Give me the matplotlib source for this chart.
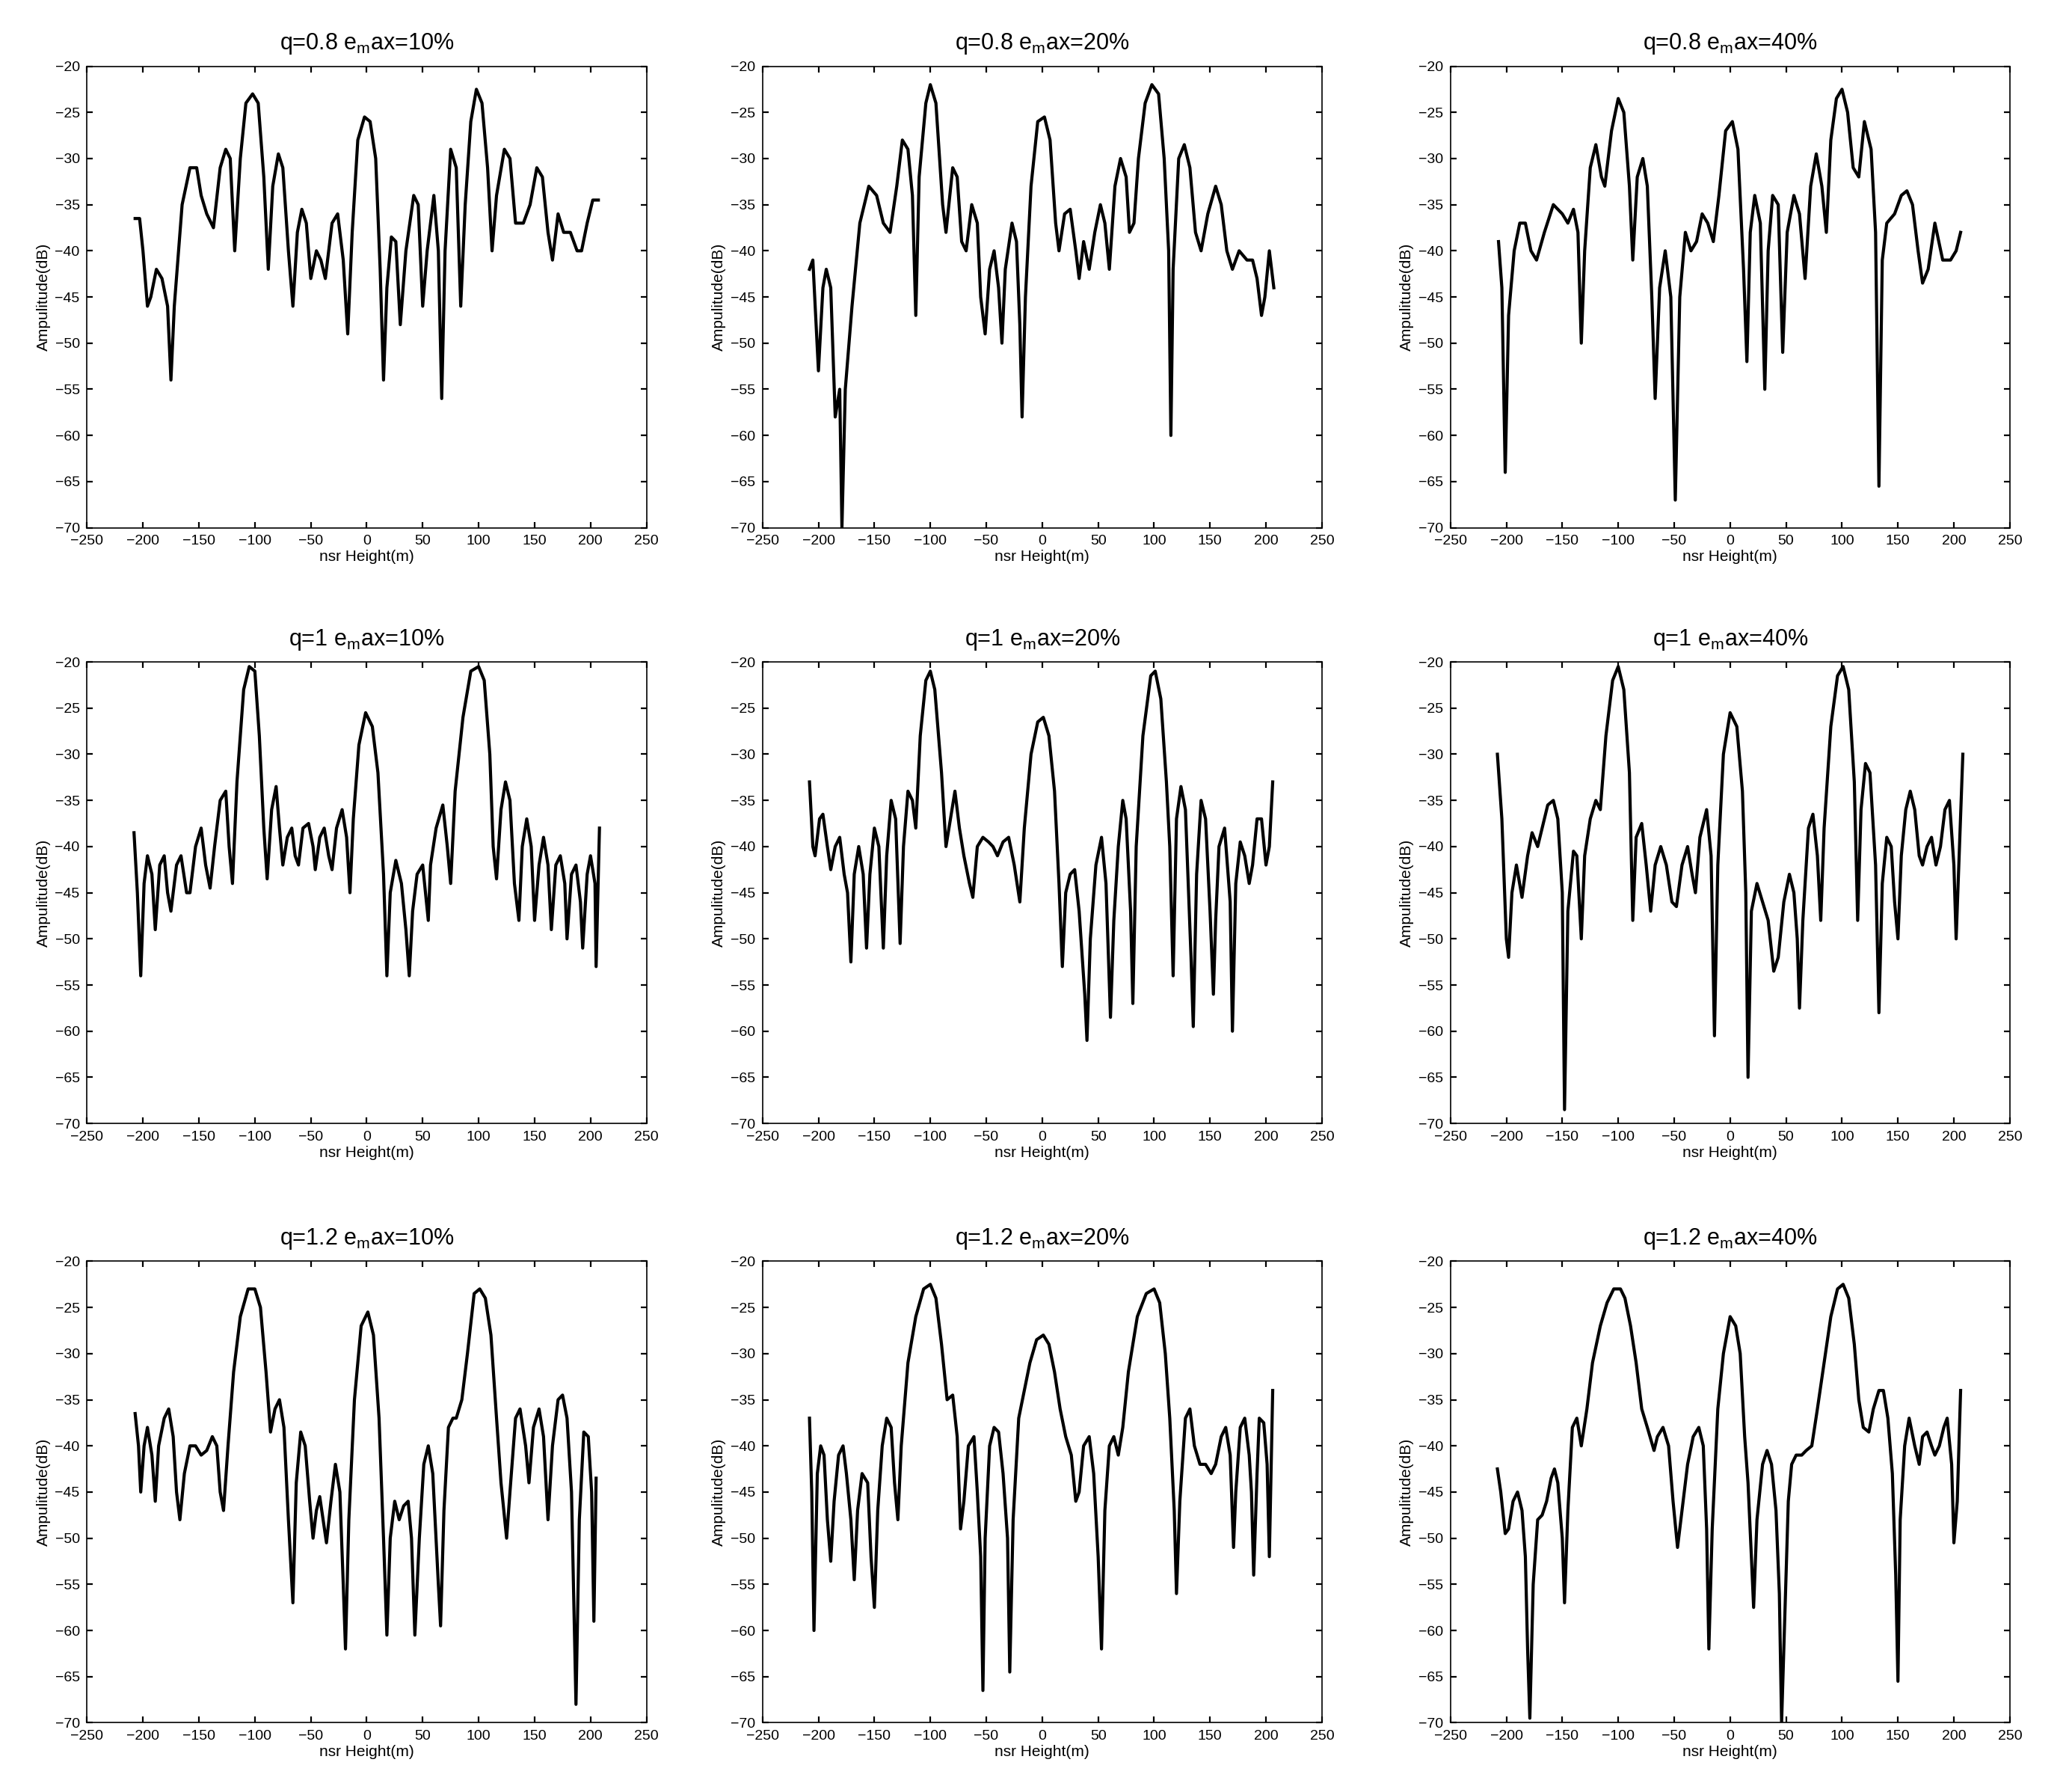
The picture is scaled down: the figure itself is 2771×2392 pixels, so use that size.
import numpy as np
import matplotlib
matplotlib.use("Agg")
import matplotlib.pyplot as plt

plt.rcParams['font.family'] = ['Liberation Sans', 'DejaVu Sans']
plt.rcParams['mathtext.default'] = 'regular'

# (x, dB) samples, one list per panel
p_08_10 = [(-207,-36.5),(-203,-36.5),(-200,-40),(-196,-46),(-193,-45),(-188,-42),(-183,-43),(-178,-46),(-175,-54),(-172,-46),(-165,-35),(-158,-31),(-152,-31),(-148,-34),(-143,-36),(-137,-37.5),(-131,-31),(-126,-29),(-122,-30),(-118,-40),(-113,-30),(-108,-24),(-102,-23),(-97,-24),(-92,-32),(-88,-42),(-84,-33),(-79,-29.5),(-75,-31),(-70,-40),(-66,-46),(-62,-38),(-58,-35.5),(-54,-37),(-50,-43),(-45,-40),(-41,-41),(-37,-43),(-31,-37),(-26,-36),(-21,-41),(-17,-49),(-13,-38),(-8,-28),(-2,-25.5),(3,-26),(8,-30),(12,-42),(15,-54),(18,-44),(22,-38.5),(26,-39),(30,-48),(35,-40),(42,-34),(46,-35),(50,-46),(54,-40),(60,-34),(64,-40),(67,-56),(70,-40),(75,-29),(80,-31),(84,-46),(88,-35),(93,-26),(98,-22.5),(103,-24),(108,-31),(112,-40),(116,-34),(123,-29),(128,-30),(133,-37),(140,-37),(146,-35),(152,-31),(157,-32),(162,-38),(166,-41),(171,-36),(176,-38),(182,-38),(188,-40),(192,-40),(197,-37),(202,-34.5),(207,-34.5)]
p_08_20 = [(-208,-42),(-205,-41),(-200,-53),(-196,-44),(-193,-42),(-189,-44),(-185,-58),(-181,-55),(-179,-70),(-176,-55),(-170,-46),(-163,-37),(-155,-33),(-148,-34),(-142,-37),(-136,-38),(-130,-33),(-125,-28),(-120,-29),(-116,-34),(-113,-47),(-110,-32),(-104,-24),(-100,-22),(-95,-24),(-89,-35),(-86,-38),(-80,-31),(-76,-32),(-72,-39),(-68,-40),(-63,-35),(-58,-37),(-55,-45),(-51,-49),(-47,-42),(-43,-40),(-39,-44),(-36,-50),(-33,-42),(-27,-37),(-23,-39),(-20,-48),(-18,-58),(-15,-45),(-10,-33),(-4,-26),(2,-25.5),(7,-28),(12,-37),(15,-40),(20,-36),(25,-35.5),(30,-40),(33,-43),(37,-39),(42,-42),(47,-38),(52,-35),(56,-37),(60,-42),(65,-33),(70,-30),(75,-32),(78,-38),(82,-37),(86,-30),(92,-24),(98,-22),(104,-23),(109,-30),(113,-40),(115,-60),(117,-42),(122,-30),(127,-28.5),(132,-31),(137,-38),(142,-40),(148,-36),(155,-33),(160,-35),(165,-40),(170,-42),(176,-40),(183,-41),(188,-41),(192,-43),(196,-47),(199,-45),(203,-40),(207,-44)]
p_08_40 = [(-207,-39),(-204,-44),(-201,-64),(-198,-47),(-193,-40),(-188,-37),(-183,-37),(-178,-40),(-173,-41),(-166,-38),(-158,-35),(-150,-36),(-145,-37),(-140,-35.5),(-136,-38),(-133,-50),(-130,-40),(-125,-31),(-120,-28.5),(-115,-32),(-112,-33),(-106,-27),(-100,-23.5),(-95,-25),(-90,-33),(-87,-41),(-83,-32),(-78,-30),(-74,-33),(-70,-45),(-67,-56),(-63,-44),(-58,-40),(-53,-45),(-49,-67),(-45,-45),(-40,-38),(-35,-40),(-30,-39),(-25,-36),(-20,-37),(-15,-39),(-10,-34),(-4,-27),(2,-26),(7,-29),(12,-42),(15,-52),(18,-38),(22,-34),(27,-37),(31,-55),(34,-40),(38,-34),(43,-35),(47,-51),(51,-38),(57,-34),(62,-36),(67,-43),(72,-33),(77,-29.5),(82,-33),(86,-38),(90,-28),(95,-23.5),(100,-22.5),(105,-25),(110,-31),(115,-32),(120,-26),(126,-29),(130,-38),(133,-65.5),(136,-41),(140,-37),(147,-36),(153,-34),(158,-33.5),(163,-35),(168,-40),(172,-43.5),(177,-42),(183,-37),(190,-41),(197,-41),(202,-40),(206,-38)]
p_10_10 = [(-208,-38.5),(-205,-45),(-202,-54),(-199,-44),(-196,-41),(-192,-43),(-189,-49),(-185,-42),(-181,-41),(-178,-45),(-175,-47),(-170,-42),(-166,-41),(-161,-45),(-158,-45),(-153,-40),(-148,-38),(-144,-42),(-140,-44.5),(-136,-40),(-131,-35),(-126,-34),(-123,-40),(-120,-44),(-116,-33),(-110,-23),(-105,-20.5),(-100,-21),(-96,-28),(-92,-38),(-89,-43.5),(-85,-36),(-81,-33.5),(-78,-38),(-75,-42),(-71,-39),(-67,-38),(-64,-41),(-61,-42),(-57,-38),(-52,-37.5),(-48,-40),(-46,-42.5),(-42,-39),(-38,-38),(-34,-41),(-31,-42.5),(-27,-38),(-22,-36),(-18,-39),(-15,-45),(-12,-37),(-7,-29),(-1,-25.5),(5,-27),(10,-32),(15,-43),(18,-54),(21,-45),(26,-41.5),(31,-44),(35,-49),(38,-54),(41,-47),(45,-43),(50,-42),(55,-48),(57,-42),(62,-38),(68,-35.5),(72,-40),(75,-44),(79,-34),(86,-26),(93,-21),(100,-20.5),(105,-22),(110,-30),(113,-40),(116,-43.5),(120,-36),(124,-33),(128,-35),(132,-44),(136,-48),(139,-40),(143,-37),(147,-40),(150,-48),(154,-42),(158,-39),(162,-42),(165,-49),(169,-42),(173,-41),(177,-44),(179,-50),(183,-43),(187,-42),(191,-46),(193,-51),(197,-43),(200,-41),(204,-44),(205,-53),(208,-38)]
p_10_20 = [(-208,-33),(-205,-40),(-203,-41),(-199,-37),(-196,-36.5),(-192,-40),(-189,-42.5),(-185,-40),(-181,-39),(-177,-43),(-174,-45),(-171,-52.5),(-168,-43),(-164,-40),(-160,-43),(-157,-51),(-154,-43),(-150,-38),(-146,-40),(-142,-51),(-139,-41),(-135,-35),(-131,-37),(-127,-50.5),(-124,-40),(-120,-34),(-116,-35),(-113,-38),(-109,-28),(-104,-22),(-100,-21),(-96,-23),(-90,-32),(-86,-40),(-82,-37),(-78,-34),(-74,-38),(-70,-41),(-65,-44),(-62,-45.5),(-58,-40),(-53,-39),(-48,-39.5),(-44,-40),(-40,-41),(-35,-39.5),(-30,-39),(-25,-42),(-20,-46),(-16,-38),(-10,-30),(-4,-26.5),(1,-26),(6,-28),(11,-34),(15,-44),(18,-53),(21,-45),(25,-43),(29,-42.5),(33,-47),(38,-56),(40,-61),(43,-50),(48,-42),(53,-39),(57,-44),(61,-58.5),(64,-48),(68,-40),(72,-35),(75,-37),(79,-47),(81,-57),(84,-40),(90,-28),(97,-21.5),(101,-21),(106,-24),(111,-33),(114,-40),(117,-54),(120,-37),(124,-33.5),(128,-36),(133,-52),(135,-59.5),(138,-43),(142,-35),(146,-37),(150,-47),(153,-56),(155,-48),(158,-40),(163,-38),(168,-46),(170,-60),(173,-44),(177,-39.5),(181,-41),(185,-44),(188,-42),(192,-37),(196,-37),(200,-42),(203,-40),(206,-33)]
p_10_40 = [(-208,-30),(-204,-37),(-200,-50),(-198,-52),(-195,-45),(-191,-42),(-186,-45.5),(-181,-41),(-177,-38.5),(-172,-40),(-168,-38),(-163,-35.5),(-158,-35),(-154,-37),(-150,-45),(-148,-68.5),(-145,-47),(-140,-40.5),(-137,-41),(-133,-50),(-130,-41),(-125,-37),(-120,-35),(-116,-36),(-111,-28),(-105,-22),(-100,-20.5),(-95,-23),(-90,-32),(-87,-48),(-84,-39),(-79,-37.5),(-75,-42),(-71,-47),(-67,-42),(-62,-40),(-57,-42),(-52,-46),(-48,-46.5),(-43,-42),(-38,-40),(-34,-43),(-31,-45),(-27,-39),(-21,-36),(-17,-41),(-14,-60.5),(-11,-42),(-6,-30),(0,-25.5),(6,-27),(11,-34),(14,-45),(16,-65),(19,-47),(24,-44),(29,-46),(34,-48),(39,-53.5),(43,-52),(48,-46),(53,-43),(57,-45),(60,-50),(62,-57.5),(65,-48),(70,-38),(74,-36.5),(78,-41),(81,-48),(84,-38),(90,-27),(96,-21.5),(101,-20.5),(106,-23),(111,-33),(114,-48),(117,-36),(121,-31),(125,-32),(130,-42),(133,-58),(136,-44),(140,-39),(144,-40),(147,-46),(150,-50),(153,-41),(157,-36),(161,-34),(165,-36),(169,-41),(172,-42),(176,-40),(180,-39),(184,-42),(188,-40),(192,-36),(196,-35),(200,-42),(202,-50),(205,-40),(208,-30)]
p_12_10 = [(-207,-36.5),(-204,-40),(-202,-45),(-199,-40),(-196,-38),(-192,-41),(-189,-46),(-186,-40),(-181,-37),(-177,-36),(-173,-39),(-170,-45),(-167,-48),(-163,-43),(-158,-40),(-153,-40),(-148,-41),(-143,-40.5),(-138,-39),(-134,-40),(-131,-45),(-128,-47),(-124,-40),(-119,-32),(-113,-26),(-106,-23),(-100,-23),(-95,-25),(-90,-32),(-86,-38.5),(-82,-36),(-78,-35),(-74,-38),(-70,-48),(-66,-57),(-63,-44),(-59,-38.5),(-55,-40),(-51,-46),(-48,-50),(-45,-47),(-42,-45.5),(-39,-48),(-36,-50.5),(-32,-46),(-28,-42),(-24,-45),(-21,-55),(-19,-62),(-16,-48),(-11,-35),(-5,-27),(1,-25.5),(6,-28),(11,-37),(15,-50),(18,-60.5),(21,-50),(25,-46),(29,-48),(33,-46.5),(37,-46),(40,-50),(43,-60.5),(47,-50),(51,-42),(55,-40),(59,-43),(64,-55),(66,-59.5),(69,-47),(73,-38),(77,-37),(80,-37),(85,-35),(90,-30),(96,-23.5),(101,-23),(106,-24),(111,-28),(116,-37),(120,-44),(125,-50),(128,-45),(133,-37),(137,-36),(142,-40),(145,-44),(149,-38),(154,-36),(158,-39),(162,-48),(166,-40),(171,-35),(175,-34.5),(179,-37),(183,-45),(187,-68),(190,-48),(194,-38.5),(198,-39),(201,-45),(203,-59),(205,-43.5)]
p_12_20 = [(-208,-37),(-206,-45),(-204,-60),(-201,-43),(-198,-40),(-195,-41),(-192,-48),(-189,-52.5),(-186,-46),(-182,-41),(-178,-40),(-175,-43),(-171,-48),(-168,-54.5),(-165,-47),(-161,-43),(-156,-44),(-153,-52),(-150,-57.5),(-147,-47),(-143,-40),(-139,-37),(-135,-38),(-132,-44),(-129,-48),(-126,-40),(-120,-31),(-113,-26),(-106,-23),(-100,-22.5),(-95,-24),(-90,-29),(-85,-35),(-80,-34.5),(-76,-39),(-73,-49),(-70,-46),(-66,-40),(-61,-39),(-58,-45),(-55,-52),(-53,-66.5),(-51,-50),(-47,-40),(-43,-38),(-39,-38.5),(-35,-43),(-31,-50),(-29,-64.5),(-26,-48),(-21,-37),(-16,-34),(-11,-31),(-5,-28.5),(1,-28),(6,-29),(11,-32),(16,-36),(21,-39),(26,-41),(30,-46),(33,-45),(37,-40),(42,-39),(46,-43),(50,-52),(53,-62),(56,-47),(60,-40),(64,-39),(68,-41),(72,-38),(77,-32),(85,-26),(93,-23.5),(100,-23),(105,-24.5),(110,-30),(114,-37),(118,-47),(120,-56),(123,-46),(128,-37),(132,-36),(136,-40),(141,-42),(146,-42),(151,-43),(155,-42),(160,-39),(164,-38),(168,-41),(171,-51),(173,-45),(177,-38),(181,-37),(185,-41),(187,-45),(189,-54),(192,-43),(194,-37),(198,-37.5),(201,-42),(203,-52),(206,-34)]
p_12_40 = [(-208,-42.5),(-205,-45),(-201,-49.5),(-198,-49),(-194,-46),(-190,-45),(-186,-47),(-183,-52),(-181,-62),(-179,-69.5),(-176,-55),(-172,-48),(-168,-47.5),(-164,-46),(-160,-43.5),(-157,-42.5),(-154,-44),(-150,-50),(-148,-57),(-145,-47),(-141,-38),(-137,-37),(-133,-40),(-128,-36),(-123,-31),(-116,-27),(-110,-24.5),(-104,-23),(-98,-23),(-94,-24),(-89,-27),(-84,-31),(-79,-36),(-74,-38),(-68,-40.5),(-65,-39),(-60,-38),(-55,-40),(-51,-46),(-47,-51),(-43,-47),(-38,-42),(-33,-39),(-28,-38),(-24,-40),(-21,-49),(-19,-62),(-16,-49),(-11,-36),(-6,-30),(0,-26),(5,-27),(9,-30),(13,-39),(16,-44),(19,-52),(21,-57.5),(24,-48),(29,-42),(33,-40.5),(37,-42),(41,-47),(44,-56),(46,-70),(49,-58),(52,-46),(55,-42),(59,-41),(64,-41),(68,-40.5),(73,-40),(78,-36),(84,-31),(90,-26),(96,-23),(101,-22.5),(106,-24),(111,-29),(115,-35),(119,-38),(124,-38.5),(128,-36),(133,-34),(137,-34),(141,-37),(145,-43),(148,-54),(150,-65.5),(152,-48),(156,-40),(160,-37),(165,-40),(169,-42),(172,-39),(176,-38.5),(180,-40),(183,-41),(187,-40),(191,-38),(194,-37),(198,-42),(200,-50.5),(203,-46),(206,-34)]

q_labels = ['0.8', '1', '1.2']
emax_labels = ['10%', '20%', '40%']
panels = [[p_08_10, p_08_20, p_08_40],
          [p_10_10, p_10_20, p_10_40],
          [p_12_10, p_12_20, p_12_40]]

fig = plt.figure(figsize=(13.855, 11.96), dpi=200)
lefts = [0.042, 0.368, 0.700]
bottoms = [0.705, 0.372, 0.037]
w, h = 0.27, 0.258

for r in range(3):
    for c in range(3):
        ax = fig.add_axes([lefts[c], bottoms[r], w, h])
        x, y = np.array(panels[r][c]).T
        ax.plot(x, y, color='black', linewidth=1.5)
        ax.set_xlim(-250, 250)
        ax.set_ylim(-70, -20)
        ax.set_xticks(np.arange(-250, 251, 50))
        ax.set_yticks(np.arange(-70, -19, 5))
        ax.tick_params(labelsize=7, direction='in', length=3, top=True, right=True)
        ax.set_xlabel('nsr Height(m)', fontsize=7.5, labelpad=1)
        ax.set_ylabel('Ampulitude(dB)', fontsize=7.5, labelpad=2)
        ax.set_title(f'q={q_labels[r]} e$_m$ax={emax_labels[c]}', fontsize=11, pad=8)
        for s in ax.spines.values():
            s.set_linewidth(0.6)

fig.savefig('out.png', dpi=200)
